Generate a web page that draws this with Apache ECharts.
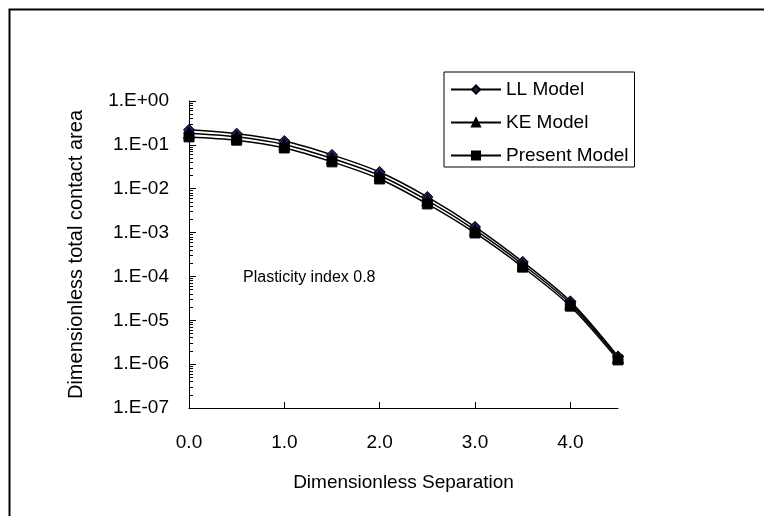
<!DOCTYPE html>
<html>
<head>
<meta charset="utf-8">
<script src="https://cdn.jsdelivr.net/npm/echarts@6/dist/echarts.min.js"></script>
<style>
html,body{margin:0;padding:0;background:#fff;}
#chart{width:764px;height:516px;}
</style>
</head>
<body>
<div id="chart"></div>
<script>
const separation = [0.0, 0.5, 1.0, 1.5, 2.0, 2.5, 3.0, 3.5, 4.0, 4.5];
const llModel = [0.22, 0.18, 0.122, 0.059, 0.024, 0.0065, 0.00135, 0.000215, 2.7e-5, 1.5e-6];
const keModel = [0.185, 0.153, 0.102, 0.049, 0.020, 0.0054, 0.00115, 0.000188, 2.4e-5, 1.4e-6];
const presentModel = [0.152, 0.128, 0.085, 0.041, 0.0167, 0.0045, 0.00098, 0.000163, 2.1e-5, 1.25e-6];
const xTickValues = [0, 1, 2, 3, 4];
const yDecades = [1e-7, 1e-6, 1e-5, 1e-4, 1e-3, 1e-2, 1e-1, 1];
const yMinorMultipliers = [2, 3, 4, 5, 6, 7, 8, 9];
const seriesNames = ['LL Model', 'KE Model', 'Present Model'];

const yMinorValues = [];
yDecades.slice(0, -1).forEach(d => yMinorMultipliers.forEach(m => yMinorValues.push(d * m)));

function pairs(ys) { return separation.map((x, i) => [x, ys[i]]); }
function expLabel(v) {
  const e = Math.round(Math.log10(v));
  const s = e < 0 ? '-' : '+';
  const a = Math.abs(e);
  return '1.E' + s + (a < 10 ? '0' + a : String(a));
}

const font = 'Liberation Sans, Arial, sans-serif';
const fs = 19;
const chart = echarts.init(document.getElementById('chart'), null, {renderer: 'canvas'});
const lineStyle = {color: '#000', width: 1.5};
chart.setOption({
  animation: false,
  backgroundColor: '#fff',
  textStyle: {fontFamily: font, color: '#000'},
  grid: {left: 189, right: 146, top: 101, bottom: 108, containLabel: false},
  legend: {
    orient: 'vertical',
    left: 444, top: 72,
    padding: [8, 6, 2, 6],
    borderColor: '#000', borderWidth: 1,
    itemWidth: 50, itemHeight: 10, itemGap: 14,
    textStyle: {fontFamily: font, fontSize: fs, color: '#000'},
    data: seriesNames
  },
  xAxis: {
    type: 'value', min: 0, max: 4.5,
    name: 'Dimensionless Separation', nameLocation: 'middle', nameGap: 65,
    nameTextStyle: {fontFamily: font, fontSize: fs, color: '#000'},
    axisLine: {lineStyle: {color: '#000', width: 1}},
    axisTick: {inside: true, length: 6, customValues: xTickValues, lineStyle: {color: '#000'}},
    axisLabel: {customValues: xTickValues, margin: 25, fontFamily: font, fontSize: fs, color: '#000',
      formatter: v => v.toFixed(1)},
    splitLine: {show: false}
  },
  yAxis: [{
    type: 'log', logBase: 10, min: 1e-7, max: 1, position: 'left',
    name: 'Dimensionless total contact area', nameLocation: 'middle', nameGap: 103,
    nameTextStyle: {fontFamily: font, fontSize: 20, color: '#000'},
    axisLine: {show: true, lineStyle: {color: '#000', width: 1}},
    axisTick: {show: true, inside: true, length: 4, customValues: yMinorValues, lineStyle: {color: '#000'}},
    axisLabel: {margin: 20, fontFamily: font, fontSize: fs, color: '#000', customValues: yDecades, formatter: expLabel},
    splitLine: {show: false}
  }, {
    type: 'log', logBase: 10, min: 1e-7, max: 1, position: 'left', offset: 0,
    axisLine: {show: false},
    axisTick: {show: true, inside: true, length: 7, customValues: yDecades, lineStyle: {color: '#000'}},
    axisLabel: {show: false},
    splitLine: {show: false}
  }],
  graphic: [
    {type: 'rect', left: 7, top: 7, shape: {width: 800, height: 600},
      style: {fill: 'none', stroke: '#000', lineWidth: 2}, z: 100},
    {type: 'text', left: 243, top: 270,
      style: {text: 'Plasticity index 0.8', font: '16px ' + font, fill: '#000'}}
  ],
  series: [
    {name: seriesNames[0], type: 'line', data: pairs(llModel), smooth: 0.3, yAxisIndex: 0,
      symbol: 'diamond', symbolSize: 11, showAllSymbol: true,
      lineStyle: lineStyle, itemStyle: {color: '#1c1c5e', borderColor: '#000', borderWidth: 1}},
    {name: seriesNames[1], type: 'line', data: pairs(keModel), smooth: 0.3, yAxisIndex: 0,
      symbol: 'triangle', symbolSize: 11, showAllSymbol: true,
      lineStyle: lineStyle, itemStyle: {color: '#000', borderColor: '#000', borderWidth: 1}},
    {name: seriesNames[2], type: 'line', data: pairs(presentModel), smooth: 0.3, yAxisIndex: 0,
      symbol: 'rect', symbolSize: 10, showAllSymbol: true,
      lineStyle: lineStyle, itemStyle: {color: '#000', borderColor: '#000', borderWidth: 1}}
  ]
});
</script>
</body>
</html>
